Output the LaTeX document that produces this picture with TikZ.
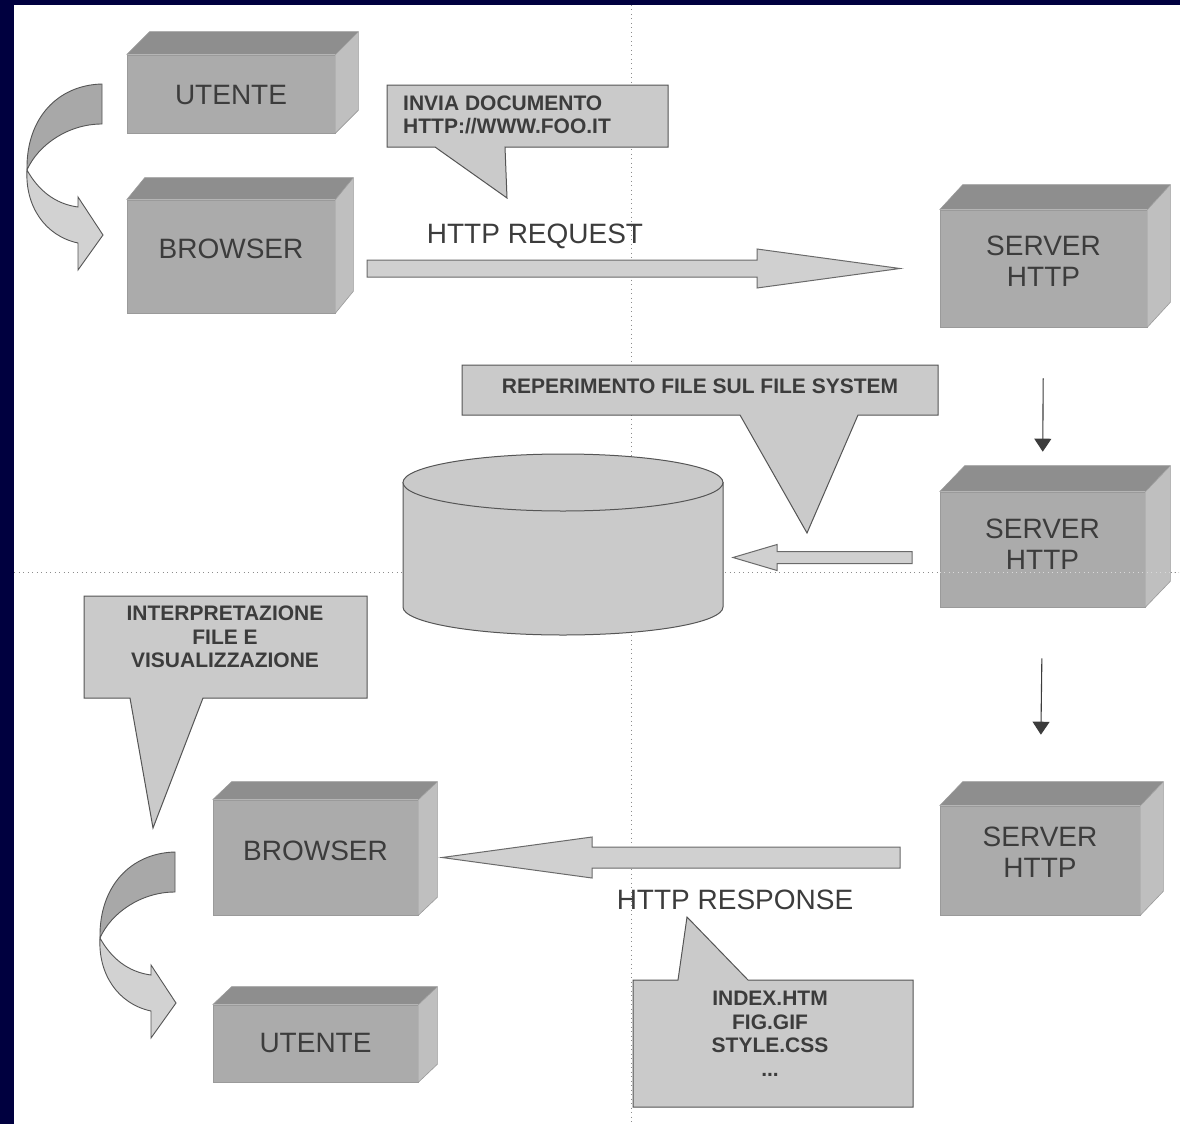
\documentclass[tikz,border=0pt]{standalone}
\usepackage{fontspec}
\setmainfont{Liberation Sans}
\usetikzlibrary{arrows.meta,calc}

\definecolor{frame}{HTML}{00003F}
\definecolor{blockfront}{HTML}{ABABAB}
\definecolor{blocktop}{HTML}{8E8E8E}
\definecolor{blockside}{HTML}{BFBFBF}
\definecolor{blockedge}{HTML}{9A9A9A}
\definecolor{notefill}{HTML}{CACACA}
\definecolor{noteedge}{HTML}{555555}
\definecolor{arrowfill}{HTML}{D0D0D0}
\definecolor{arrowedge}{HTML}{6A6A6A}
\definecolor{inktext}{HTML}{3C3C3C}
\definecolor{guidegray}{HTML}{8C8C8C}
\definecolor{ribbondark}{HTML}{A8A8A8}
\definecolor{ribbonlight}{HTML}{D2D2D2}

\newcommand\blockfont{\fontsize{28}{31}\selectfont}
\newcommand\notefont{\bfseries\fontsize{21}{23.5}\selectfont}

% 3D extrusion (top and right faces) behind a block node
\newcommand\extrude[3]{%
  \fill[blocktop] (#1.north west) -- ++(#2,#3) -- ($(#1.north east)+(#2,#3)$) -- (#1.north east) -- cycle;
  \fill[blockside] (#1.north east) -- ++(#2,#3) -- ($(#1.south east)+(#2,#3)$) -- (#1.south east) -- cycle;
  \draw[blockedge, line width=0.6pt] (#1.north west) -- ++(#2,#3) -- ($(#1.north east)+(#2,#3)$) -- ($(#1.south east)+(#2,#3)$) -- (#1.south east);
  \draw[blockedge, line width=0.6pt] (#1.north east) -- ++(#2,#3);
}

% label of a block, raised a little above the face centre
\newcommand\blocklabel[3]{%
  \node[biglabel, align=center] (#1-text) at ($(#1)+(0,#2)$) {#3};
}

% flat block arrow: from, to, shaft half width, head half width, head length
\newcommand\blockarrow[5]{%
  \coordinate (ba-base) at ($(#2)!#5!(#1)$);
  \filldraw[flatarrow]
    ($(#1)!#3!90:(#2)$) -- ($(ba-base)!#3!90:(#2)$) -- ($(ba-base)!#4!90:(#2)$)
    -- (#2) -- ($(ba-base)!#4!-90:(#2)$) -- ($(ba-base)!#3!-90:(#2)$)
    -- ($(#1)!#3!-90:(#2)$) -- cycle;
}

% twisted ribbon arrow, drawn in pixel-like coordinates
\newcommand\ribbonarrow{%
  \filldraw[fill=ribbondark, draw=noteedge, line width=0.9pt]
    (102,84) .. controls (58,85) and (26,118) .. (27,170)
    .. controls (38,145) and (68,124) .. (102,124) -- cycle;
  \filldraw[fill=ribbonlight, draw=noteedge, line width=0.9pt]
    (27,170) .. controls (38,190) and (55,204) .. (78,207)
    -- (78,197) -- (103,235) -- (78,270) -- (78,243)
    .. controls (45,236) and (25,206) .. (27,170) -- cycle;
}

\begin{document}
\begin{tikzpicture}[x=1pt, y=-1pt,
  block/.style={rectangle, fill=blockfront, draw=blockedge, line width=0.6pt, inner sep=0pt},
  note/.style={fill=notefill, draw=noteedge, line width=1pt, line join=miter},
  notetext/.style={font=\notefont, text=inktext, align=center, inner sep=0pt},
  biglabel/.style={font=\blockfont, text=inktext, inner sep=0pt},
  flatarrow/.style={fill=arrowfill, draw=arrowedge, line width=1pt, line join=miter},
  thinarrow/.style={draw=inktext, line width=1.1pt, -{Triangle[length=13pt,width=17pt]}},
  guide/.style={draw=guidegray, line width=1pt, dash pattern=on 1pt off 3.5pt},
  disk/.style={fill=notefill, draw=noteedge, line width=1pt}
]
\useasboundingbox (0,0) rectangle (1180,1124);

% page frame
\fill[frame] (0,0) rectangle (1180,1124);
\fill[white] (14,5) rectangle (1180,1124);

% guide lines
\draw[guide] (631,5) -- (631,1124);
\draw[guide] (14,572) -- (1180,572);

% blocks
\node[block, minimum width=208pt, minimum height=78pt]  (utenteA)  at (231,94)       {};
\node[block, minimum width=208pt, minimum height=113pt] (browserA) at (231,256.5)    {};
\node[block, minimum width=207pt, minimum height=117pt] (serverA)  at (1043.5,268.5) {};
\node[block, minimum width=205pt, minimum height=115pt] (serverB)  at (1042.5,549.5) {};
\node[block, minimum width=200pt, minimum height=109pt] (serverC)  at (1040,860.5)   {};
\node[block, minimum width=205pt, minimum height=115pt] (browserB) at (315.5,857.5)  {};
\node[block, minimum width=205pt, minimum height=77pt]  (utenteB)  at (315.5,1043.5) {};

\extrude{utenteA}{23}{-23}
\extrude{browserA}{18}{-22}
\extrude{serverA}{23}{-25}
\extrude{serverB}{25}{-26}
\extrude{serverC}{23}{-24}
\extrude{browserB}{19}{-18}
\extrude{utenteB}{19}{-18}

% guide segment visible over the middle server
\draw[guide, draw=white!85!black] (serverB.west |- 0,572) -- (1180,572);

\blocklabel{utenteA}{1}{UTENTE}
\blocklabel{browserA}{-8}{BROWSER}
\blocklabel{serverA}{-7}{SERVER\\HTTP}
\blocklabel{serverB}{-5}{SERVER\\HTTP}
\blocklabel{serverC}{-8}{SERVER\\HTTP}
\blocklabel{browserB}{-7}{BROWSER}
\blocklabel{utenteB}{-1}{UTENTE}

% ribbon arrows: user -> browser, browser -> user
\ribbonarrow
\begin{scope}[shift={(73,768)}]
  \ribbonarrow
\end{scope}

% request callout
\filldraw[note] (387,85) -- (668,85) -- (668,147) -- (505,147) -- (507,198) -- (435,147) -- (387,147) -- cycle;
\node[notetext, align=left, anchor=west] (askNote) at (403,115) {INVIA DOCUMENTO\\HTTP://WWW.FOO.IT};

% request arrow
\node[biglabel] (reqLabel) at (535,236) {HTTP REQUEST};
\coordinate (reqStart) at (367,268.5);
\coordinate (reqEnd) at (900,268.5);
\blockarrow{reqStart}{reqEnd}{8.5pt}{19.5pt}{143pt}

% server -> server
\draw[thinarrow, shorten <=51pt, shorten >=40pt] (serverA.south) -- (serverB.north);
\draw[thinarrow, shorten <=51pt, shorten >=71pt] (serverB.south) -- (serverC.north);

% file system callout
\filldraw[note] (462,365) -- (938,365) -- (938,415) -- (858,415) -- (807,533) -- (740,415) -- (462,415) -- cycle;
\node[notetext] (fsNote) at (700,386) {REPERIMENTO FILE SUL FILE SYSTEM};

% disk
\path[disk] (403,482.5) -- (403,607)
  .. controls (403,622.5) and (474.6,635) .. (563,635)
  .. controls (651.4,635) and (723,622.5) .. (723,607)
  -- (723,482.5) -- cycle;
\filldraw[disk] (563,482.5) ellipse [x radius=160pt, y radius=28.5pt];
\node[inner sep=0pt, minimum width=320pt, minimum height=181pt] (disk) at (563,544.5) {};

% server -> disk
\coordinate (fetchStart) at (912,557.5);
\coordinate (fetchEnd) at (733,557.5);
\blockarrow{fetchStart}{fetchEnd}{6pt}{13pt}{44pt}

% interpretation callout
\filldraw[note] (84,596) -- (367,596) -- (367,698) -- (203,698) -- (153,828) -- (130,698) -- (84,698) -- cycle;
\node[notetext] (showNote) at (225,637) {INTERPRETAZIONE\\FILE E\\VISUALIZZAZIONE};

% response arrow
\coordinate (respStart) at (900,857.5);
\coordinate (respEnd) at (442,857.5);
\blockarrow{respStart}{respEnd}{10.5pt}{20.5pt}{150pt}
\node[biglabel] (respLabel) at (735,900) {HTTP RESPONSE};

% files callout
\filldraw[note] (633,980) -- (678,980) -- (687,917) -- (748,980) -- (913,980) -- (913,1107) -- (633,1107) -- cycle;
\node[notetext] (filesNote) at (770,1034) {INDEX.HTM\\FIG.GIF\\STYLE.CSS\\...};

\end{tikzpicture}
\end{document}
